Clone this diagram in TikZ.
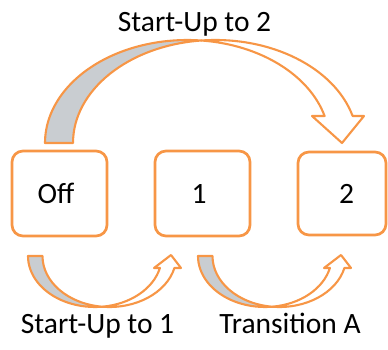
\documentclass[tikz,border=0pt]{standalone}
\usepackage{fontspec}
\setmainfont{Carlito}
\definecolor{accent}{HTML}{F79646}
\definecolor{backside}{HTML}{C9CDD1}
\begin{document}
\begin{tikzpicture}[x=1pt,y=1pt,
  state/.style={draw=accent, line width=2.7pt, rounded corners=11pt, fill=white, inner sep=0pt},
  ribbon/.style={draw=accent, line width=2.1pt, line join=round},
  lbl/.style={font=\fontsize{29.5}{34}\selectfont, text=black, inner sep=0pt, anchor=base},
  % curved ribbon arrow under the boxes: shaded back side, then white front with head
  uparrow/.pic={
    \filldraw[ribbon, fill=backside] (28,93)
      arc[start angle=180, end angle=276.22, x radius=66.9pt, y radius=51pt]
      arc[start angle=263.78, end angle=180, x radius=66.9pt, y radius=51pt] -- cycle;
    \filldraw[ribbon, fill=white] ([shift={(94.9,93)}]276.22:66.9pt and 51pt)
      arc[start angle=263.78, end angle=346.39, x radius=66.9pt, y radius=51pt]
      -- (181,81) -- (171,94) -- (154,81)
      -- ([shift={(94.9,93)}]346.39:66.9pt and 51pt)
      arc[start angle=346.39, end angle=276.22, x radius=66.9pt, y radius=51pt] -- cycle;
  }]
\useasboundingbox (0,0) rectangle (388,349);

% states
\node[state, minimum width=95pt, minimum height=85pt] (off) at (59.5,155.5) {};
\node[state, minimum width=95pt, minimum height=85pt] (one) at (202.5,155.5) {};
\node[state, minimum width=88pt, minimum height=83pt] (two) at (342,155.5) {};
\node[lbl] (offtext) at (56,146) {Off};
\node[lbl] (onetext) at (199,146) {1};
\node[lbl] (twotext) at (346.5,146) {2};

% big arc from Off over to state 2
\filldraw[ribbon, fill=backside] (45,206)
  arc[start angle=180, end angle=84.35, x radius=142.3pt, y radius=103pt]
  arc[start angle=95.65, end angle=180, x radius=142.3pt, y radius=103pt] -- cycle;
\filldraw[ribbon, fill=white] ([shift={(187.3,206)}]84.35:142.3pt and 103pt)
  arc[start angle=95.65, end angle=15.2, x radius=142.3pt, y radius=103pt]
  -- (364,233) -- (342,206) -- (312,233)
  -- ([shift={(187.3,206)}]15.2:142.3pt and 103pt)
  arc[start angle=15.2, end angle=84.35, x radius=142.3pt, y radius=103pt] -- cycle;

% lower arcs
\pic at (0,0) {uparrow};
\pic at (170,0) {uparrow};

% transition labels
\node[lbl] (sutwo) at (194.5,317) {Start-Up to 2};
\node[lbl] (suone) at (97.5,16) {Start-Up to 1};
\node[lbl] (transa) at (290,16) {Transition A};
\end{tikzpicture}
\end{document}
